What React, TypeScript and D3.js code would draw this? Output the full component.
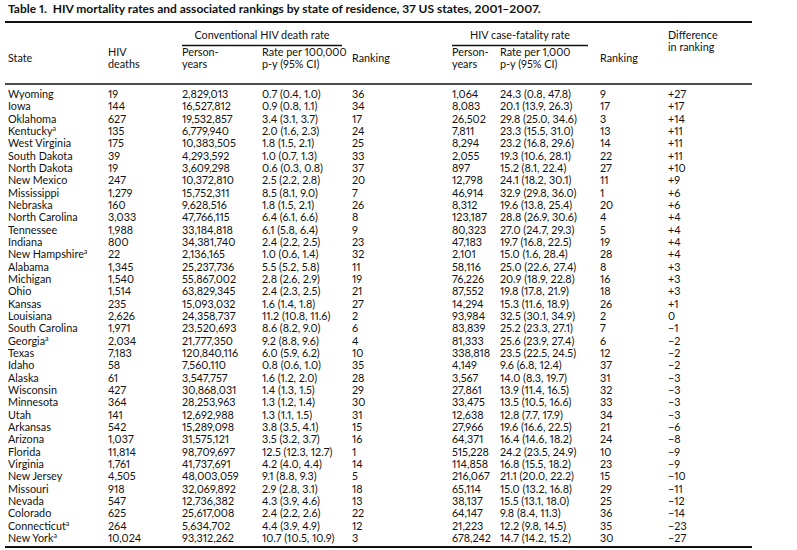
import React from "react";
import * as d3 from "d3";

const states = ["Wyoming","Iowa","Oklahoma","Kentucky","West Virginia","South Dakota","North Dakota","New Mexico","Mississippi","Nebraska","North Carolina","Tennessee","Indiana","New Hampshire","Alabama","Michigan","Ohio","Kansas","Louisiana","South Carolina","Georgia","Texas","Idaho","Alaska","Wisconsin","Minnesota","Utah","Arkansas","Arizona","Florida","Virginia","New Jersey","Missouri","Nevada","Colorado","Connecticut","New York"];
const footnoteA = ["Kentucky","New Hampshire","Georgia","Connecticut","New York"];
const hivDeaths = [19,144,627,135,175,39,19,247,1279,160,3033,1988,800,22,1345,1540,1514,235,2626,1971,2034,7183,58,61,427,364,141,542,1037,11814,1761,4505,918,547,625,264,10024];
const personYears = [2829013,16527812,19532857,6779940,10383505,4293592,3609298,10372810,15752311,9628516,47766115,33184818,34381740,2136165,25237736,55867002,63829345,15093032,24358737,23520693,21777350,120840116,7560110,3547757,30868031,28253963,12692988,15289098,31575121,98709697,41737691,48003059,32069892,12736382,25617008,5634702,93312262];
const deathRate = [0.7,0.9,3.4,2.0,1.8,1.0,0.6,2.5,8.5,1.8,6.4,6.1,2.4,1.0,5.5,2.8,2.4,1.6,11.2,8.6,9.2,6.0,0.8,1.6,1.4,1.3,1.3,3.8,3.5,12.5,4.2,9.1,2.9,4.3,2.4,4.4,10.7];
const deathLo = [0.4,0.8,3.1,1.6,1.5,0.7,0.3,2.2,8.1,1.5,6.1,5.8,2.2,0.6,5.2,2.6,2.3,1.4,10.8,8.2,8.8,5.9,0.6,1.2,1.3,1.2,1.1,3.5,3.2,12.3,4.0,8.8,2.8,3.9,2.2,3.9,10.5];
const deathHi = [1.0,1.1,3.7,2.3,2.1,1.3,0.8,2.8,9.0,2.1,6.6,6.4,2.5,1.4,5.8,2.9,2.5,1.8,11.6,9.0,9.6,6.2,1.0,2.0,1.5,1.4,1.5,4.1,3.7,12.7,4.4,9.3,3.1,4.6,2.6,4.9,10.9];
const deathRank = [36,34,17,24,25,33,37,20,7,26,8,9,23,32,11,19,21,27,2,6,4,10,35,28,29,30,31,15,16,1,14,5,18,13,22,12,3];
const cfPersonYears = [1064,8083,26502,7811,8294,2055,897,12798,46914,8312,123187,80323,47183,2101,58116,76226,87552,14294,93984,83839,81333,338818,4149,3567,27861,33475,12638,27966,64371,515228,114858,216067,65114,38137,64147,21223,678242];
const cfRate = [24.3,20.1,29.8,23.3,23.2,19.3,15.2,24.1,32.9,19.6,28.8,27.0,19.7,15.0,25.0,20.9,19.8,15.3,32.5,25.2,25.6,23.5,9.6,14.0,13.9,13.5,12.8,19.6,16.4,24.2,16.8,21.1,15.0,15.5,9.8,12.2,14.7];
const cfLo = [0.8,13.9,25.0,15.5,16.8,10.6,8.1,18.2,29.8,13.8,26.9,24.7,16.8,1.6,22.6,18.9,17.8,11.6,30.1,23.3,23.9,22.5,6.8,8.3,11.4,10.5,7.7,16.6,14.6,23.5,15.5,20.0,13.2,13.1,8.4,9.8,14.2];
const cfHi = [47.8,26.3,34.6,31.0,29.6,28.1,22.4,30.1,36.0,25.4,30.6,29.3,22.5,28.4,27.4,22.8,21.9,18.9,34.9,27.1,27.4,24.5,12.4,19.7,16.5,16.6,17.9,22.5,18.2,24.9,18.2,22.2,16.8,18.0,11.3,14.5,15.2];
const cfRank = [9,17,3,13,14,22,27,11,1,20,4,5,19,28,8,16,18,26,2,7,6,12,37,31,32,33,34,21,24,10,23,15,29,25,36,35,30];
const rankDiff = [27,17,14,11,11,11,10,9,6,6,4,4,4,4,3,3,3,1,0,-1,-2,-2,-2,-3,-3,-3,-3,-6,-8,-9,-9,-10,-11,-12,-14,-23,-27];

const title = "Table 1.  HIV mortality rates and associated rankings by state of residence, 37 US states, 2001\u20132007.";
const groupConventional = "Conventional HIV death rate";
const groupCaseFatality = "HIV case-fatality rate";

const W = 797, H = 550;
const FONT = "Lato, 'Open Sans', sans-serif";
const FS = 10.8;

const colKeys = ["state","deaths","py","rate","rank","py2","rate2","rank2","diff"];
const colX = d3.scaleOrdinal<string, number>().domain(colKeys).range([8,108,182,262,352,452,500,600,668]);

const yRow = d3.scaleLinear().domain([0, states.length - 1]).range([98, 542]);
const fmtInt = d3.format(",");
const f1 = (v: number) => v.toFixed(1);
const ci = (r: number, lo: number, hi: number) => `${f1(r)} (${f1(lo)}, ${f1(hi)})`;
const fmtDiff = (v: number) => v > 0 ? `+${v}` : v < 0 ? `\u2212${Math.abs(v)}` : "0";

export default function App() {
  const ruleX0 = 5, ruleX1 = 752;
  const g1 = [182, 342], g2 = [452, 588];
  return (
    <svg width={W} height={H} style={{ position: "absolute", left: 0, top: 0, background: "#fff", fontVariantNumeric: "proportional-nums", fontFeatureSettings: "'pnum' 1" }}
      fontFamily={FONT} fontSize={FS} fill="#111">
      <rect x={0} y={0} width={W} height={H} fill="#fff" />
      <text x={8} y={13} fontWeight="bold" fontSize={12} style={{ whiteSpace: "pre" }}>{title}</text>
      <line x1={ruleX0} x2={ruleX1} y1={22} y2={22} stroke="#111" strokeWidth={2} />
      {/* group headers */}
      <text x={(g1[0] + g1[1]) / 2} y={39} textAnchor="middle">{groupConventional}</text>
      <line x1={g1[0]} x2={g1[1]} y1={45.5} y2={45.5} stroke="#111" strokeWidth={1.3} />
      <text x={(g2[0] + g2[1]) / 2} y={39} textAnchor="middle">{groupCaseFatality}</text>
      <line x1={g2[0]} x2={g2[1]} y1={45.5} y2={45.5} stroke="#111" strokeWidth={1.3} />
      <text x={colX("diff")} y={39}>Difference</text>
      <text x={colX("diff")} y={51}>in ranking</text>
      {/* column headers */}
      <text x={colX("state")} y={62}>State</text>
      <text x={colX("deaths")} y={56}>HIV</text>
      <text x={colX("deaths")} y={68}>deaths</text>
      <text x={colX("py")} y={56}>Person-</text>
      <text x={colX("py")} y={68}>years</text>
      <text x={colX("rate")} y={56}>Rate per 100,000</text>
      <text x={colX("rate")} y={68}>p-y (95% CI)</text>
      <text x={colX("rank")} y={62}>Ranking</text>
      <text x={colX("py2")} y={56}>Person-</text>
      <text x={colX("py2")} y={68}>years</text>
      <text x={colX("rate2")} y={56}>Rate per 1,000</text>
      <text x={colX("rate2")} y={68}>p-y (95% CI)</text>
      <text x={colX("rank2")} y={62}>Ranking</text>
      <line x1={ruleX0} x2={ruleX1} y1={84} y2={84} stroke="#111" strokeWidth={1.6} />
      {states.map((s, i) => {
        const y = yRow(i);
        return (
          <g key={s}>
            <text x={colX("state")} y={y}>
              {s}
              {footnoteA.includes(s) && <tspan fontSize={7} dy={-4}>a</tspan>}
            </text>
            <text x={colX("deaths")} y={y}>{fmtInt(hivDeaths[i])}</text>
            <text x={colX("py")} y={y}>{fmtInt(personYears[i])}</text>
            <text x={colX("rate")} y={y}>{ci(deathRate[i], deathLo[i], deathHi[i])}</text>
            <text x={colX("rank")} y={y}>{deathRank[i]}</text>
            <text x={colX("py2")} y={y}>{fmtInt(cfPersonYears[i])}</text>
            <text x={colX("rate2")} y={y}>{ci(cfRate[i], cfLo[i], cfHi[i])}</text>
            <text x={colX("rank2")} y={y}>{cfRank[i]}</text>
            <text x={colX("diff")} y={y}>{fmtDiff(rankDiff[i])}</text>
          </g>
        );
      })}
      <line x1={ruleX0} x2={ruleX1} y1={547} y2={547} stroke="#111" strokeWidth={2} />
    </svg>
  );
}
